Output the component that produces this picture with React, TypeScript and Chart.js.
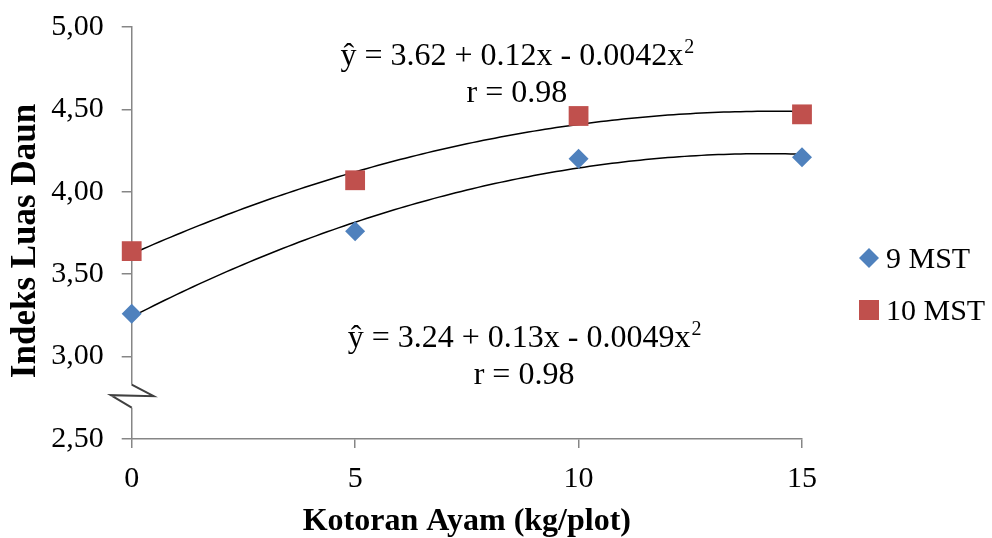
import React, { useEffect, useRef } from "react";
import { Chart, registerables } from "chart.js";

Chart.register(...registerables);

// ---------- data ----------
const doses = [0, 5, 10, 15];
const mst9 = [3.26, 3.76, 4.2, 4.21];
const mst10 = [3.64, 4.07, 4.46, 4.47];
const seriesNames = ["9 MST", "10 MST"];
const seriesColors = ["#4F81BD", "#C0504D"];
const yTicks = [2.5, 3.0, 3.5, 4.0, 4.5, 5.0];
const xTicks = [0, 5, 10, 15];
const xTitle = "Kotoran Ayam (kg/plot)";
const yTitle = "Indeks Luas Daun";
const eq10 = ["ŷ = 3.62 + 0.12x - 0.0042x", "r = 0.98"];
const eq9 = ["ŷ = 3.24 + 0.13x - 0.0049x", "r = 0.98"];
// annotation anchors in data units [x, y of first baseline]
const eq10Pos = [8.62, 4.77];
const eq9Pos = [8.78, 3.06];
const breakRange = [2.69, 2.83];

const FONT = '"Liberation Serif", "Times New Roman", serif';

// quadratic least squares fit (as Excel's polynomial trendline)
function quadFit(xs: number[], ys: number[]) {
  let s0 = 0, s1 = 0, s2 = 0, s3 = 0, s4 = 0, t0 = 0, t1 = 0, t2 = 0;
  for (let i = 0; i < xs.length; i++) {
    const x = xs[i], y = ys[i];
    s0 += 1; s1 += x; s2 += x * x; s3 += x * x * x; s4 += x * x * x * x;
    t0 += y; t1 += x * y; t2 += x * x * y;
  }
  const M = [
    [s0, s1, s2, t0],
    [s1, s2, s3, t1],
    [s2, s3, s4, t2],
  ];
  for (let c = 0; c < 3; c++) {
    for (let r = c + 1; r < 3; r++) {
      const f = M[r][c] / M[c][c];
      for (let k = c; k < 4; k++) M[r][k] -= f * M[c][k];
    }
  }
  const sol = [0, 0, 0];
  for (let r = 2; r >= 0; r--) {
    let v = M[r][3];
    for (let k = r + 1; k < 3; k++) v -= M[r][k] * sol[k];
    sol[r] = v / M[r][r];
  }
  return sol;
}

function trend(xs: number[], ys: number[]) {
  const [a, b, c] = quadFit(xs, ys);
  const pts: { x: number; y: number }[] = [];
  const lo = xs[0], hi = xs[xs.length - 1];
  const n = 120;
  for (let i = 0; i <= n; i++) {
    const x = lo + ((hi - lo) * i) / n;
    pts.push({ x, y: a + b * x + c * x * x });
  }
  return pts;
}

const overlayPlugin = {
  id: "overlay",
  afterDraw(chart: any) {
    const ctx = chart.ctx as CanvasRenderingContext2D;
    const xs = chart.scales.x;
    const ys = chart.scales.y;
    const area = chart.chartArea;
    ctx.save();

    // axis break
    const ax = area.left;
    const yTop = ys.getPixelForValue(breakRange[1]);
    const yBot = ys.getPixelForValue(breakRange[0]);
    const yMid = (yTop + yBot) / 2;
    ctx.fillStyle = "#ffffff";
    ctx.fillRect(ax - 24, yTop, 56, yBot - yTop);
    ctx.strokeStyle = "#404040";
    ctx.lineWidth = 2;
    ctx.beginPath();
    ctx.moveTo(ax, yTop);
    ctx.lineTo(ax + 22, yMid);
    ctx.lineTo(ax - 21, yMid - 1);
    ctx.lineTo(ax, yBot);
    ctx.stroke();

    // y-axis title
    ctx.save();
    ctx.translate(35, (area.top + area.bottom) / 2 + 8);
    ctx.rotate(-Math.PI / 2);
    ctx.font = `bold 35px ${FONT}`;
    ctx.fillStyle = "#000";
    ctx.textAlign = "center";
    ctx.textBaseline = "alphabetic";
    ctx.fillText(yTitle, 0, 0);
    ctx.restore();

    // equations
    const drawEq = (lines: string[], pos: number[]) => {
      const cx = xs.getPixelForValue(pos[0]);
      const by = ys.getPixelForValue(pos[1]);
      ctx.fillStyle = "#000";
      ctx.textBaseline = "alphabetic";
      ctx.textAlign = "left";
      ctx.font = `32px ${FONT}`;
      const w1 = ctx.measureText(lines[0]).width;
      ctx.font = `20px ${FONT}`;
      const ws = ctx.measureText("2").width;
      const total = w1 + ws;
      ctx.font = `32px ${FONT}`;
      ctx.fillText(lines[0], cx - total / 2, by);
      ctx.font = `20px ${FONT}`;
      ctx.fillText("2", cx - total / 2 + w1 + 1, by - 12);
      ctx.font = `32px ${FONT}`;
      ctx.textAlign = "center";
      ctx.fillText(lines[1], cx, by + 37);
    };
    drawEq(eq10, eq10Pos);
    drawEq(eq9, eq9Pos);

    // legend
    const lx = area.right + 67;
    const rows = [area.top + 231, area.top + 283];
    ctx.font = `30px ${FONT}`;
    ctx.textAlign = "left";
    ctx.textBaseline = "alphabetic";
    seriesNames.forEach((name, i) => {
      const cy = rows[i];
      ctx.fillStyle = seriesColors[i];
      ctx.beginPath();
      if (i === 0) {
        ctx.moveTo(lx - 10, cy);
        ctx.lineTo(lx, cy - 10);
        ctx.lineTo(lx + 10, cy);
        ctx.lineTo(lx, cy + 10);
        ctx.closePath();
        ctx.fill();
      } else {
        ctx.fillRect(lx - 10, cy - 10, 20, 20);
      }
      ctx.fillStyle = "#000";
      ctx.fillText(name, lx + 17, cy + 10);
    });
    ctx.restore();
  },
};

export default function App() {
  const ref = useRef<HTMLCanvasElement>(null);
  useEffect(() => {
    if (!ref.current) return;
    const axisColor = "#868686";
    const chart = new Chart(ref.current, {
      type: "scatter",
      data: {
        datasets: [
          {
            label: seriesNames[0] + " trend",
            data: trend(doses, mst9),
            showLine: true,
            borderColor: "#000",
            borderWidth: 1.5,
            pointRadius: 0,
            clip: false,
            order: 2,
          },
          {
            label: seriesNames[1] + " trend",
            data: trend(doses, mst10),
            showLine: true,
            borderColor: "#000",
            borderWidth: 1.5,
            pointRadius: 0,
            clip: false,
            order: 2,
          },
          {
            label: seriesNames[0],
            data: doses.map((x, i) => ({ x, y: mst9[i] })),
            pointStyle: "rectRot",
            pointRadius: 10,
            backgroundColor: seriesColors[0],
            borderColor: seriesColors[0],
            borderWidth: 0,
            clip: false,
            order: 1,
          },
          {
            label: seriesNames[1],
            data: doses.map((x, i) => ({ x, y: mst10[i] })),
            pointStyle: "rect",
            pointRadius: 14,
            backgroundColor: seriesColors[1],
            borderColor: seriesColors[1],
            borderWidth: 0,
            clip: false,
            order: 1,
          },
        ],
      },
      options: {
        responsive: false,
        animation: false,
        layout: { padding: { left: 0, top: 27, right: 190, bottom: 0 } },
        plugins: {
          legend: { display: false },
          tooltip: { enabled: false },
        },
        scales: {
          x: {
            type: "linear",
            min: 0,
            max: 15,
            afterBuildTicks: (s: any) => {
              s.ticks = xTicks.map((v) => ({ value: v }));
            },
            afterFit: (s: any) => {
              s.height = 99;
              s.paddingLeft = 0;
              s.paddingRight = 0;
            },
            border: { color: axisColor, width: 1.5 },
            grid: {
              drawOnChartArea: false,
              drawTicks: true,
              tickLength: 9,
              color: axisColor,
              lineWidth: 1.5,
            },
            ticks: {
              color: "#000",
              font: { family: FONT, size: 30 },
              padding: 13,
              maxRotation: 0,
            },
            title: {
              display: true,
              text: xTitle,
              color: "#000",
              font: { family: FONT, size: 32, weight: "bold", lineHeight: 1 },
              padding: { top: 0, bottom: 0 },
            },
          },
          y: {
            type: "linear",
            min: 2.5,
            max: 5,
            afterBuildTicks: (s: any) => {
              s.ticks = yTicks.map((v) => ({ value: v }));
            },
            afterFit: (s: any) => {
              s.width = 131.7;
              s.paddingTop = 0;
              s.paddingBottom = 0;
            },
            border: { color: axisColor, width: 1.5 },
            grid: {
              drawOnChartArea: false,
              drawTicks: true,
              tickLength: 10,
              color: axisColor,
              lineWidth: 1.5,
            },
            ticks: {
              color: "#000",
              font: { family: FONT, size: 30 },
              padding: 18,
              callback: (v: any) => Number(v).toFixed(2).replace(".", ","),
            },
            title: { display: false },
          },
        },
      },
      plugins: [overlayPlugin],
    });
    return () => chart.destroy();
  }, []);
  return (
    <div style={{ position: "fixed", left: 0, top: 0, width: 992, height: 538, background: "#fff" }}>
      <canvas ref={ref} width={992} height={538} />
    </div>
  );
}
